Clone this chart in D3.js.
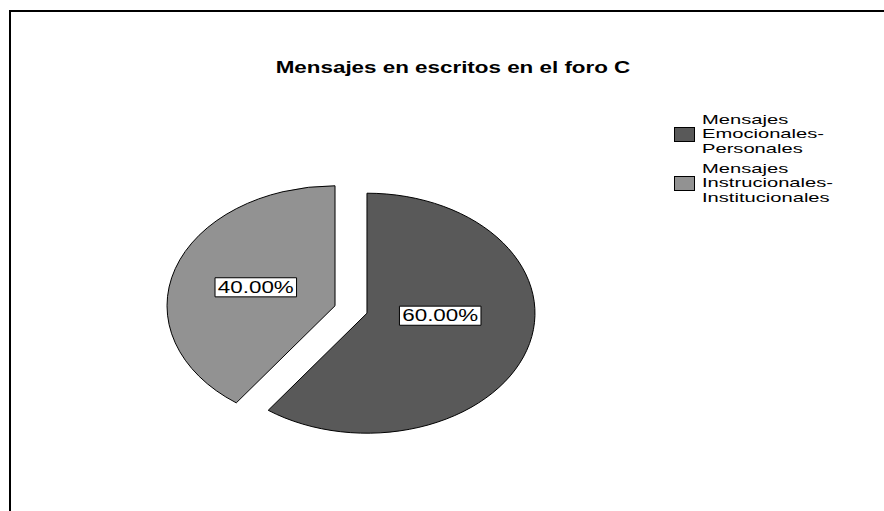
<!DOCTYPE html>
<html>
<head>
<meta charset="utf-8">
<script src="https://cdn.jsdelivr.net/npm/d3@7"></script>
<style>
  body { margin: 0; background: #fff; }
  text { font-family: "Liberation Sans", Arial, sans-serif; }
</style>
</head>
<body>
<svg width="884" height="511"></svg>
<script>
const width = 884, height = 511;
const svg = d3.select("svg");

// data
const categories = ["Mensajes Emocionales-Personales", "Mensajes Instrucionales-Institucionales"];
const legendLines = [["Mensajes", "Emocionales-", "Personales"], ["Mensajes", "Instrucionales-", "Institucionales"]];
const values = [60, 40];
const colors = ["#595959", "#929292"];
const title = "Mensajes en escritos en el foro C";

// the original is stretched sideways, text included
const sx = 1.4;
const labelNudge = [[0, -15], [-6, -2]];

// frame
svg.append("path")
  .attr("d", `M10,${height} L10,11 L${width},11`)
  .attr("fill", "none")
  .attr("stroke", "#000")
  .attr("stroke-width", 2);

svg.append("text")
  .attr("transform", `translate(453,73) scale(${sx},1)`)
  .attr("text-anchor", "middle")
  .attr("font-size", 16).attr("font-weight", "bold")
  .text(title);

// pie, drawn as a circle then stretched into an ellipse
const r = 120, explode = 12;
const cx = 351, cy = 309.5;
const pie = d3.pie().sort(null).value(d => d);
const arc = d3.arc().innerRadius(0).outerRadius(r);
const labelArc = d3.arc().innerRadius(55).outerRadius(55);
const arcs = pie(values);

const g = svg.append("g").attr("transform", `translate(${cx},${cy})`);

arcs.forEach((a, i) => {
  const mid = (a.startAngle + a.endAngle) / 2;
  const dx = Math.sin(mid) * explode * sx, dy = -Math.cos(mid) * explode;
  g.append("path")
    .attr("d", arc(a))
    .attr("transform", `translate(${dx},${dy}) scale(${sx},1)`)
    .attr("fill", colors[i])
    .attr("stroke", "#000")
    .attr("stroke-width", 1)
    .attr("vector-effect", "non-scaling-stroke");

  const [lx, ly] = labelArc.centroid(a);
  const px = lx * sx + dx + labelNudge[i][0], py = ly + dy + labelNudge[i][1];
  const label = g.append("g").attr("transform", `translate(${px},${py}) scale(${sx},1)`);
  const t = label.append("text")
    .attr("text-anchor", "middle")
    .attr("dy", "0.36em")
    .attr("font-size", 16)
    .text(d3.format(".2f")(values[i]) + "%");
  const bb = t.node().getBBox();
  label.insert("rect", "text")
    .attr("x", bb.x - 2).attr("y", bb.y)
    .attr("width", bb.width + 4).attr("height", bb.height + 1)
    .attr("fill", "#fff").attr("stroke", "#000").attr("stroke-width", 1)
    .attr("vector-effect", "non-scaling-stroke");
});

// legend
const lsx = 1.6;
const legend = svg.append("g").attr("transform", "translate(674,124)");
categories.forEach((c, i) => {
  const item = legend.append("g").attr("transform", `translate(0,${i * 49})`);
  item.append("rect")
    .attr("x", 0.5).attr("y", 3.5)
    .attr("width", 20).attr("height", 14)
    .attr("fill", colors[i]).attr("stroke", "#000").attr("stroke-width", 1);
  item.append("text")
    .attr("transform", `translate(28,0) scale(${lsx},1)`)
    .attr("font-size", 12.6)
    .selectAll("tspan")
    .data(legendLines[i])
    .join("tspan")
    .attr("x", 0)
    .attr("y", (d, j) => j * 14.5)
    .text(d => d);
});
</script>
</body>
</html>
